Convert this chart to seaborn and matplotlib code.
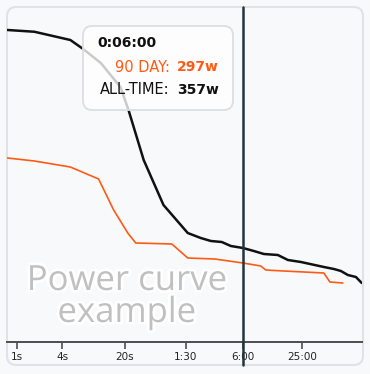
import numpy as np
import pandas as pd
import matplotlib
matplotlib.use("Agg")
import matplotlib.pyplot as plt
import matplotlib.patheffects as pe
from matplotlib.patches import FancyBboxPatch
import seaborn as sns

# ---- data (duration in seconds, power in watts) ----
alltime_sec = [0.7, 1.8, 5, 7, 11, 18, 22, 32, 52, 94, 129, 165, 215, 268, 360,
               468, 597, 838, 1069, 1466, 2558, 3258, 3864, 4571, 5559, 6400]
alltime_w = [1229, 1222, 1189, 1153, 1097, 1001, 909, 709, 529, 417, 397, 385, 381, 365, 357,
             345, 333, 329, 309, 301, 281, 273, 265, 249, 241, 217]
day90_sec = [0.7, 1.8, 5, 10.4, 15.2, 21.6, 26.3, 63.8, 94, 181.5, 360,
             554, 626, 970, 2558, 2957, 4055]
day90_w = [717, 705, 681, 633, 509, 417, 377, 373, 317, 313, 297,
           285, 269, 265, 257, 221, 217]
tick_sec = [1, 4, 20, 90, 360, 1500]
tick_labels = ["1s", "4s", "20s", "1:30", "6:00", "25:00"]
cursor_sec = 360
tooltip_time = "0:06:00"
tooltip_rows = [("90 DAY:", "297w"), ("ALL-TIME:", "357w")]
watermark = ["Power curve", "example"]

ORANGE = "#ff5a14"
BG = "#f8f9fb"

sns.set_theme(style="white")
plt.rcParams["font.family"] = ["DejaVu Sans"]

W, H = 370, 374
fig = plt.figure(figsize=(W / 100, H / 100), dpi=100)
fig.patch.set_facecolor(BG)

def fx(px):
    return px / W

def fy(py):
    return 1 - py / H

# panel
panel = FancyBboxPatch((fx(7), fy(365)), fx(363) - fx(7), fy(7) - fy(365),
                       boxstyle="round,pad=0,rounding_size=0.025",
                       transform=fig.transFigure, facecolor=BG,
                       edgecolor="#dfe2e6", linewidth=1.5, zorder=-5)
fig.patches.append(panel)

ax = fig.add_axes([fx(7), fy(342), fx(362) - fx(7), fy(7) - fy(342)])
ax.set_facecolor("none")
ax.set_zorder(1)

ax.set_xscale("function", functions=(lambda t: np.log10(np.maximum(t, 1e-9) + 0.5),
                                     lambda v: 10 ** v - 0.5))

df_all = pd.DataFrame({"sec": alltime_sec, "w": alltime_w})
df_90 = pd.DataFrame({"sec": day90_sec, "w": day90_w})
sns.lineplot(data=df_90, x="sec", y="w", ax=ax, color=ORANGE, lw=1.2,
             sort=False, estimator=None, zorder=2)
sns.lineplot(data=df_all, x="sec", y="w", ax=ax, color="#111111", lw=1.8,
             sort=False, estimator=None, zorder=3)

ax.set_xlim(0.685, 6441)
ax.set_ylim(-19, 1321)
ax.set_xticks(tick_sec)
ax.set_xticklabels(tick_labels)
ax.minorticks_off()
ax.set_yticks([])
ax.set_xlabel("")
ax.set_ylabel("")
for s in ["top", "left", "right"]:
    ax.spines[s].set_visible(False)
ax.spines["bottom"].set_color("#4a4f55")
ax.spines["bottom"].set_linewidth(1.4)
ax.tick_params(axis="x", direction="out", length=5, width=1.2, color="#4a4f55",
               labelsize=7.5, labelcolor="#222222", pad=2, bottom=True)

# watermark
for txt, base in zip(watermark, [290, 322]):
    fig.text(fx(127), fy(base), txt, ha="center", va="baseline",
             fontsize=25, color="#c0c0c0", family="Open Sans",
             path_effects=[pe.withStroke(linewidth=4, foreground="white")],
             zorder=2)

# cursor line
ax.axvline(cursor_sec, ymin=-23 / 335, ymax=1, color="#23343d", lw=1.8,
           clip_on=False, zorder=6)

# tooltip (drawn above the axes)
tip = FancyBboxPatch((fx(83), fy(110)), fx(233) - fx(83), fy(26) - fy(110),
                     boxstyle="round,pad=0,rounding_size=0.025",
                     transform=fig.transFigure, facecolor=(1, 1, 1, 0.78),
                     edgecolor="#dcdee2", linewidth=1.3, zorder=10)
fig.patches.append(tip)
fig.text(fx(97), fy(43), tooltip_time, ha="left", va="center", fontsize=10,
         fontweight="bold", color="#111111", zorder=11)
row_y = [67, 90]
row_colors = [ORANGE, "#111111"]
for (lab, val), yy, c in zip(tooltip_rows, row_y, row_colors):
    fig.text(fx(170), fy(yy), lab, ha="right", va="center", fontsize=10.5,
             color=c, zorder=11)
    fig.text(fx(177), fy(yy), val, ha="left", va="center", fontsize=10,
             fontweight="bold", color=c, zorder=11)

fig.savefig("out.png", dpi=100, facecolor=fig.get_facecolor())
